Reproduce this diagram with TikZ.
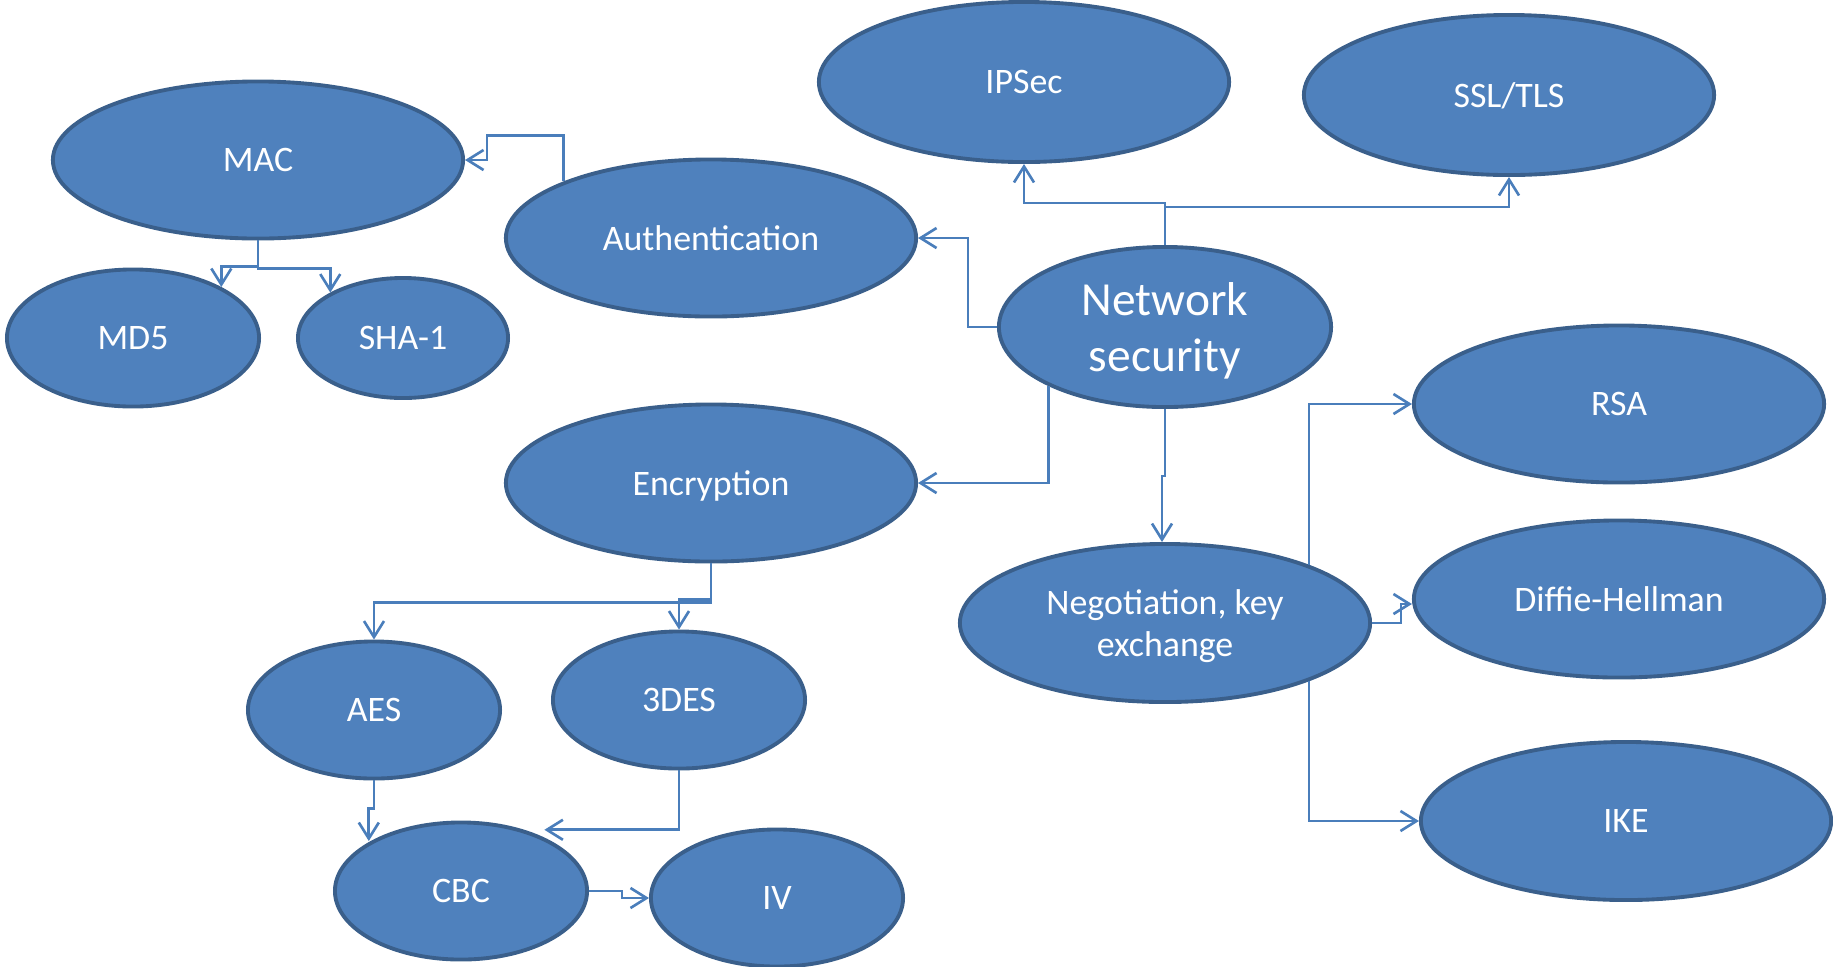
\documentclass[tikz,border=0pt]{standalone}
\usepackage{fontspec}
\setmainfont{Carlito}
\usetikzlibrary{shapes.geometric,arrows.meta}
\definecolor{ofill}{HTML}{4F81BD}
\definecolor{oedge}{HTML}{3A5F8B}
\definecolor{olink}{HTML}{4A7EBB}
\begin{document}
\begin{tikzpicture}[x=0.01cm, y=-0.01cm,
    topic/.style={ellipse, draw=oedge, line width=1.1pt, fill=ofill, text=white,
        inner sep=0pt, align=center, text depth=0pt, font=\fontsize{10.2}{12}\selectfont},
    bigtopic/.style={topic, minimum width=4.1cm, minimum height=1.57cm},
    smalltopic/.style={topic, minimum width=2.52cm, minimum height=1.37cm},
    link/.style={draw=olink, line width=0.75pt, -{Straight Barb[length=1.6mm, width=2mm]}}]
        \useasboundingbox (0,0) rectangle (1833,966);
        % Root
        \node[bigtopic, minimum width=3.32cm, minimum height=1.6cm,
              font=\fontsize{13.5}{16}\selectfont] (net) at (1165,327) {Network\\security};
        % Protocols
        \node[bigtopic, minimum height=1.6cm] (ipsec) at (1024,82) {IPSec};
        \node[bigtopic, minimum height=1.6cm] (ssl) at (1509,95) {SSL/TLS};
        % Authentication branch
        \node[bigtopic] (auth) at (711,238) {Authentication};
        \node[bigtopic] (mac) at (258,160) {MAC};
        \node[smalltopic] (md5) at (133,338) {MD5};
        \node[smalltopic, minimum width=2.1cm, minimum height=1.2cm] (sha) at (403,338) {SHA-1};
        % Encryption branch
        \node[bigtopic] (enc) at (711,483) {Encryption};
        \node[smalltopic] (aes) at (374,710) {AES};
        \node[smalltopic] (des) at (679,700) {3DES};
        \node[smalltopic] (cbc) at (461,891) {CBC};
        \node[smalltopic] (iv) at (777,898) {IV};
        % Key exchange branch
        \node[bigtopic, minimum height=1.58cm] (neg) at (1165,623) {Negotiation, key\\exchange};
        \node[bigtopic] (rsa) at (1619,404) {RSA};
        \node[bigtopic] (dh) at (1619,599) {Diffie-Hellman};
        \node[bigtopic, minimum height=1.58cm] (ike) at (1626,821) {IKE};
        % Connectors
        \draw[link] (net.north) -- ++(0,-42) -| (ipsec.south);
        \draw[link] (net.north) -- ++(0,-38) -| (ssl.south);
        \draw[link] (net.west) -- ++(-29,0) |- (auth.east);
        \draw[link] (net.207) |- (enc.east);
        \draw[link] (net.south) -- ++(0,67) -| ([xshift=-0.03cm]neg.north);
        \draw[link] (auth.159) -- ++(0,-46) -| ([xshift=0.22cm]mac.east) -- (mac.east);
        \draw[link] (mac.south) -- ++(0,26) -| (md5.30);
        \draw[link] (mac.south) -- ++(0,28) -| (sha.148);
        \draw[link] (enc.south) -- ++(0,39) -| (aes.north);
        \draw[link] (enc.south) -- ++(0,36) -| (des.north);
        \draw[link] (aes.south) -- ++(0,28) -| ([xshift=-0.02cm]cbc.151);
        \draw[link, shorten >=0.2cm] (des.south) |- (cbc.44);
        \draw[link] (cbc.east) -- ++(33,0) |- (iv.west);
        \draw[link] (neg.22) |- (rsa.west);
        \draw[link] (neg.east) -- ++(29,0) |- ([yshift=-0.05cm]dh.west);
        \draw[link] (neg.-22) |- (ike.west);
\end{tikzpicture}
\end{document}
